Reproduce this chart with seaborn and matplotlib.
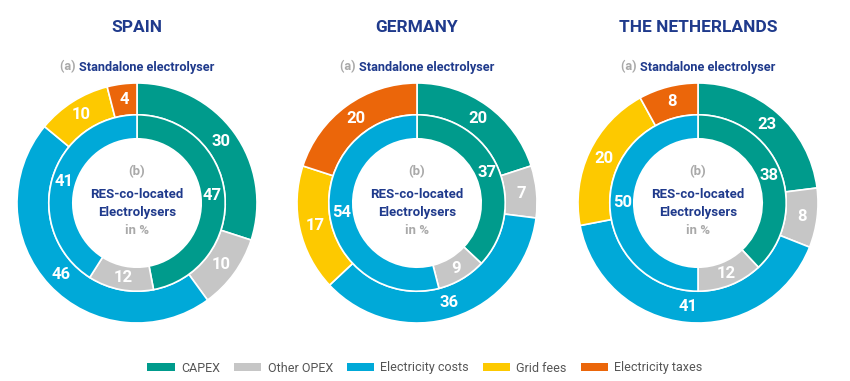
import matplotlib
matplotlib.use("Agg")
import matplotlib.pyplot as plt
from matplotlib.patches import Patch
import seaborn as sns

categories = ["CAPEX", "Other OPEX", "Electricity costs", "Grid fees", "Electricity taxes"]
countries = ["SPAIN", "GERMANY", "THE NETHERLANDS"]

# (a) standalone electrolyser, outer ring, in %
standalone_spain = [30, 10, 46, 10, 4]
standalone_germany = [20, 7, 36, 17, 20]
standalone_nl = [23, 8, 41, 20, 8]

# (b) RES-co-located electrolysers, inner ring (CAPEX, Other OPEX, Electricity costs)
colocated_spain = [47, 12, 41]
colocated_germany = [37, 9, 54]
colocated_nl = [38, 12, 50]

standalone = [standalone_spain, standalone_germany, standalone_nl]
colocated = [colocated_spain, colocated_germany, colocated_nl]

palette = sns.color_palette(["#009b8c", "#c6c6c6", "#00a9d8", "#fdc900", "#eb660a"])
navy = "#1f3a8c"
grey_txt = "#a9a9a9"

sns.set_theme(style="white")
plt.rcParams["font.family"] = ["Roboto", "DejaVu Sans"]

W, H = 850, 381
fig = plt.figure(figsize=(W / 100, H / 100), dpi=100)

centers_x = [137, 417, 698]
center_y = 203
R = 120

for i, country in enumerate(countries):
    cx = centers_x[i]
    ax = fig.add_axes([(cx - R) / W, (H - center_y - R) / H, 2 * R / W, 2 * R / H])
    ax.pie(standalone[i], colors=palette, radius=1.0, startangle=90, counterclock=False,
           autopct="%.0f", pctdistance=0.87,
           wedgeprops=dict(width=0.265, edgecolor="white", linewidth=1.2),
           textprops=dict(color="white", fontsize=12, fontweight="bold"))
    ax.pie(colocated[i], colors=palette[:3], radius=0.735, startangle=90, counterclock=False,
           autopct="%.0f", pctdistance=0.86,
           wedgeprops=dict(width=0.2, edgecolor="white", linewidth=1.2),
           textprops=dict(color="white", fontsize=12, fontweight="bold"))
    ax.set_xlim(-1, 1)
    ax.set_ylim(-1, 1)
    ax.set_aspect("equal")
    ax.axis("off")

    # centre text
    ax.text(0, 0.26, "(b)", ha="center", va="center", color=grey_txt, fontsize=9.5, fontweight="bold")
    ax.text(0, 0.07, "RES-co-located", ha="center", va="center", color=navy, fontsize=9.5, fontweight="bold")
    ax.text(0, -0.08, "Electrolysers", ha="center", va="center", color=navy, fontsize=9.5, fontweight="bold")
    ax.text(0, -0.23, "in %", ha="center", va="center", color=grey_txt, fontsize=9.5, fontweight="bold")

    # titles above
    fig.text(cx / W, 1 - 27 / H, country, ha="center", va="center", color=navy,
             fontsize=12.5, fontweight="bold")
    fig.text(cx / W, 1 - 67 / H, "(a) ", ha="right", va="center", color=grey_txt,
             fontsize=9.2, fontweight="bold")
    fig.text(cx / W, 1 - 67 / H, "Standalone electrolyser", ha="left", va="center", color=navy,
             fontsize=9.2, fontweight="bold")

# shift subtitle halves so the whole line is centred
fig.canvas.draw()
renderer = fig.canvas.get_renderer()
texts = fig.texts
for j in range(3):
    ta = texts[j * 3 + 1]
    tb = texts[j * 3 + 2]
    wa = ta.get_window_extent(renderer).width
    wb = tb.get_window_extent(renderer).width
    x0, y0 = ta.get_position()
    shift = (wa - wb) / 2 / W
    ta.set_position((x0 + shift, y0))
    tb.set_position((x0 + shift, y0))

handles = [Patch(facecolor=c, edgecolor="none") for c in palette]
fig.legend(handles, categories, loc="center", bbox_to_anchor=(0.5, 1 - 368 / H), ncol=5,
           frameon=False, handlelength=2.2, handleheight=0.6, columnspacing=1.1,
           handletextpad=0.5, prop=dict(size=9), labelcolor="#555555")

fig.savefig("out.png", dpi=100, facecolor="white")
